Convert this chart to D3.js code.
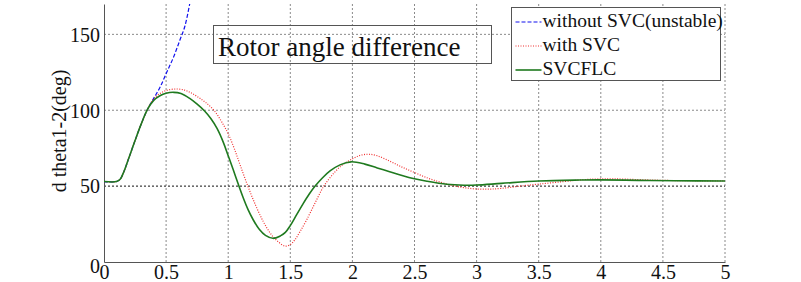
<!DOCTYPE html>
<html>
<head>
<meta charset="utf-8">
<script src="https://cdn.jsdelivr.net/npm/d3@7"></script>
<style>
	html, body { margin: 0; padding: 0; background: #fff; }
	svg { display: block; }
	svg text { font-family: 'Liberation Serif', 'Times New Roman', serif; }
	.grid line { stroke: #8a8a8a; stroke-width: 1; stroke-dasharray: 2,2; }
	.grid line.ref { stroke: #111; }
</style>
</head>
<body>
<svg id="chart"></svg>
<script>
// time points (s) and rotor angle difference (deg)
const riseTime = [ 0, 0.1, 0.13, 0.16, 0.2, 0.25, 0.3, 0.35 ];
const riseValue = [ 53, 53, 54.5, 59.5, 68.5, 80, 91, 100.5 ];

const unstableTime = [ 0.4, 0.45, 0.505, 0.56, 0.61, 0.65, 0.69, 0.72 ];
const unstableValue = [ 107.8, 115, 125, 135, 146, 155, 170, 183 ];

const svcTime = [ 0.4, 0.45, 0.5, 0.585, 0.65, 0.7, 0.76, 0.82, 0.89, 0.95, 1.0, 1.05, 1.1, 1.16, 1.22, 1.28, 1.34, 1.4, 1.457, 1.5, 1.54, 1.578, 1.63, 1.7, 1.77, 1.85, 1.92, 2.0, 2.06, 2.13, 2.2, 2.3, 2.4, 2.49, 2.6, 2.7, 2.8, 2.9, 3.0, 3.1, 3.2, 3.35, 3.5, 3.7, 3.85, 3.97, 4.1, 4.3, 4.5, 4.8, 5.0 ];
const svcValue = [ 107.5, 111, 113, 114, 113.2, 111.5, 108.5, 105, 99.5, 92, 84.5, 74.5, 63, 49.6, 37.5, 27, 18.9, 13.5, 10.5, 11.5, 15, 20, 27.5, 39, 50, 58.5, 64, 68, 70.2, 71, 70, 66.5, 62.5, 59.3, 55.5, 52.8, 50.5, 49, 48.1, 48, 48.5, 50, 51.3, 53, 54.2, 54.7, 54.8, 54.3, 53.8, 53.5, 53.5 ];

const svcflcTime = [ 0.4, 0.45, 0.5, 0.56, 0.62, 0.69, 0.75, 0.81, 0.86, 0.91, 0.96, 1.0, 1.04, 1.08, 1.12, 1.16, 1.2, 1.25, 1.3, 1.36, 1.42, 1.46, 1.5, 1.55, 1.6, 1.65, 1.7, 1.76, 1.82, 1.9, 1.99, 2.1, 2.2, 2.3, 2.4, 2.49, 2.6, 2.76, 2.9, 3.0, 3.2, 3.5, 3.83, 4.0, 4.3, 4.6, 5.0 ];
const svcflcValue = [ 106.5, 109.5, 111.2, 111.8, 111, 107.8, 104, 99.5, 94.5, 88, 79, 70, 61, 51.5, 42.5, 34.5, 28, 21.5, 17.5, 15.6, 17.2, 19.5, 24, 31, 38, 44.5, 50, 55.5, 60, 64, 66, 64.5, 62, 59.5, 57, 55, 53.2, 51.2, 50.6, 50.7, 51.8, 53.4, 54, 54.1, 53.8, 53.5, 53.4 ];

const xTicks = [ 0, 0.5, 1, 1.5, 2, 2.5, 3, 3.5, 4, 4.5, 5 ];
const yTicks = [ 0, 50, 100, 150 ];
const seriesNames = [ 'without SVC(unstable)', 'with SVC', 'SVCFLC' ];
const titleText = 'Rotor angle difference';
const yLabel = 'd theta1-2(deg)';

const serif = '\'Liberation Serif\', \'Times New Roman\', serif';

function toPoints( times, values ) {
	return times.map( ( t, i ) => ( { t, v: values[ i ] } ) );
}

const rise = toPoints( riseTime, riseValue );
const series = [
	{ name: seriesNames[ 0 ], points: rise.concat( toPoints( unstableTime, unstableValue ) ), color: '#1010ee', width: 1.2, dash: '4,2' },
	{ name: seriesNames[ 1 ], points: rise.concat( toPoints( svcTime, svcValue ) ), color: '#f03030', width: 1.2, dash: '1,1.5' },
	{ name: seriesNames[ 2 ], points: rise.concat( toPoints( svcflcTime, svcflcValue ) ), color: '#1f7a1f', width: 1.6, dash: null },
];

const width = 801;
const height = 282;
const margin = { top: 4, right: 76, bottom: 20, left: 104 };

const svg = d3.select( '#chart' )
	.attr( 'width', width )
	.attr( 'height', height );

const xScale = d3.scaleLinear()
	.domain( [ 0, 5 ] )
	.range( [ margin.left, width - margin.right ] );

const yScale = d3.scaleLinear()
	.domain( [ 0, 170 ] )
	.range( [ height - margin.bottom, margin.top ] );

// Grid
const grid = svg.append( 'g' ).attr( 'class', 'grid' );
grid.selectAll( 'line.vx' )
	.data( xTicks.slice( 1 ) )
	.enter()
	.append( 'line' )
	.attr( 'class', 'vx' )
	.attr( 'x1', ( d ) => xScale( d ) )
	.attr( 'x2', ( d ) => xScale( d ) )
	.attr( 'y1', yScale( 0 ) )
	.attr( 'y2', margin.top );
grid.selectAll( 'line.hy' )
	.data( yTicks.slice( 1 ) )
	.enter()
	.append( 'line' )
	.attr( 'class', ( d ) => d === 50 ? 'hy ref' : 'hy' )
	.attr( 'x1', xScale( 0 ) )
	.attr( 'x2', xScale( 5 ) )
	.attr( 'y1', ( d ) => yScale( d ) )
	.attr( 'y2', ( d ) => yScale( d ) );

// Axes
const xAxis = svg.append( 'g' )
	.attr( 'transform', `translate(0,${ yScale( 0 ) })` )
	.call( d3.axisBottom( xScale ).tickValues( xTicks ).tickSize( 0 ).tickPadding( 0 ).tickFormat( d3.format( '' ) ) )
	.attr( 'font-family', serif );
xAxis.select( '.domain' ).attr( 'stroke', '#555' );
xAxis.selectAll( 'text' )
	.attr( 'font-size', 20 )
	.attr( 'fill', '#111' )
	.attr( 'dy', null )
	.attr( 'y', 17 );

const yAxis = svg.append( 'g' )
	.attr( 'transform', `translate(${ xScale( 0 ) },0)` )
	.call( d3.axisLeft( yScale ).tickValues( yTicks ).tickSize( 0 ).tickPadding( 4 ) )
	.attr( 'font-family', serif );
yAxis.select( '.domain' ).attr( 'stroke', '#555' );
yAxis.selectAll( 'text' )
	.attr( 'font-size', 20 )
	.attr( 'fill', '#111' )
	.attr( 'dy', ( d ) => d === 0 ? '0.5em' : '0.34em' );

svg.append( 'text' )
	.attr( 'transform', `translate(66,131) rotate(-90)` )
	.attr( 'text-anchor', 'middle' )
	.attr( 'font-size', 20 )
	.attr( 'fill', '#111' )
	.text( yLabel );

// Curves
svg.append( 'clipPath' )
	.attr( 'id', 'plot-clip' )
	.append( 'rect' )
	.attr( 'x', xScale( 0 ) )
	.attr( 'y', margin.top )
	.attr( 'width', xScale( 5 ) - xScale( 0 ) )
	.attr( 'height', yScale( 0 ) - margin.top );

const line = d3.line()
	.curve( d3.curveCatmullRom.alpha( 0.5 ) )
	.x( ( d ) => xScale( d.t ) )
	.y( ( d ) => yScale( d.v ) );

svg.append( 'g' )
	.attr( 'clip-path', 'url(#plot-clip)' )
	.selectAll( 'path' )
	.data( series )
	.enter()
	.append( 'path' )
	.attr( 'd', ( d ) => line( d.points ) )
	.attr( 'fill', 'none' )
	.attr( 'stroke', ( d ) => d.color )
	.attr( 'stroke-width', ( d ) => d.width )
	.attr( 'stroke-dasharray', ( d ) => d.dash );

// Title box (no fill, grid shows through)
svg.append( 'rect' )
	.attr( 'x', 213.5 )
	.attr( 'y', 25.5 )
	.attr( 'width', 278 )
	.attr( 'height', 38 )
	.attr( 'fill', 'none' )
	.attr( 'stroke', '#555' );
svg.append( 'text' )
	.attr( 'x', 218 )
	.attr( 'y', 56 )
	.attr( 'font-size', 27 )
	.attr( 'fill', '#111' )
	.text( titleText );

// Legend
const legend = svg.append( 'g' ).attr( 'transform', 'translate(511.5,7.5)' );
legend.append( 'rect' )
	.attr( 'width', 209 )
	.attr( 'height', 73 )
	.attr( 'fill', '#fff' )
	.attr( 'stroke', '#555' );
const rows = legend.selectAll( 'g.row' )
	.data( series )
	.enter()
	.append( 'g' )
	.attr( 'class', 'row' )
	.attr( 'transform', ( d, i ) => `translate(0,${ 19 + i * 24 })` );
rows.append( 'line' )
	.attr( 'x1', 4 )
	.attr( 'x2', 30 )
	.attr( 'y1', -4.5 )
	.attr( 'y2', -4.5 )
	.attr( 'stroke', ( d ) => d.color )
	.attr( 'stroke-width', ( d ) => d.width )
	.attr( 'stroke-dasharray', ( d ) => d.dash );
rows.append( 'text' )
	.attr( 'x', 31 )
	.attr( 'font-size', 19.5 )
	.attr( 'fill', '#111' )
	.text( ( d ) => d.name );
</script>
</body>
</html>
